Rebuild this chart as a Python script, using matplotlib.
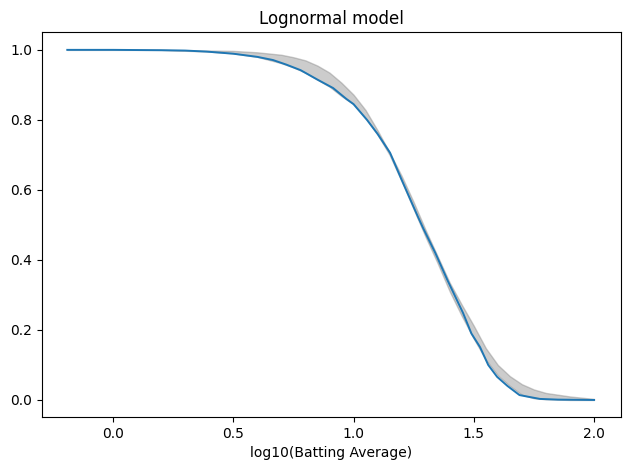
import matplotlib
matplotlib.use("Agg")
import matplotlib.pyplot as plt

# empirical survival curve (blue)
emp_x = [-0.19, 0.0, 0.2, 0.3, 0.39, 0.5, 0.6, 0.665, 0.72, 0.78, 0.85,
         0.915, 0.97, 1.0, 1.056, 1.10, 1.152, 1.20, 1.268, 1.29, 1.34,
         1.39, 1.455, 1.49, 1.526, 1.56, 1.597, 1.64, 1.69, 1.72, 1.775,
         1.85, 2.0]
emp_y = [1.0, 1.0, 0.999, 0.998, 0.995, 0.989, 0.980, 0.971, 0.958, 0.942, 0.915,
         0.891, 0.86, 0.845, 0.80, 0.76, 0.706, 0.629, 0.523, 0.49, 0.42,
         0.343, 0.249, 0.19, 0.151, 0.10, 0.066, 0.04, 0.014, 0.010, 0.003,
         0.001, 0.0]

# model band (gray)
band_x = [-0.19, 0.2, 0.4, 0.5, 0.6, 0.7, 0.75, 0.8, 0.85, 0.9, 0.95, 1.0, 1.05,
          1.1, 1.15, 1.2, 1.25, 1.3, 1.35, 1.4, 1.45, 1.5, 1.55, 1.6, 1.65,
          1.7, 1.75, 1.8, 1.9, 2.0]
band_low = [1.0, 1.0, 0.995, 0.99, 0.98, 0.962, 0.95, 0.935, 0.915, 0.895, 0.868, 0.845,
            0.805, 0.758, 0.70, 0.625, 0.545, 0.465, 0.39, 0.31, 0.24, 0.175, 0.115,
            0.07, 0.04, 0.015, 0.005, 0.002, 0.0, 0.0]
band_high = [1.0, 1.0, 0.998, 0.997, 0.993, 0.986, 0.979, 0.97, 0.955, 0.935, 0.906,
             0.872, 0.828, 0.77, 0.707, 0.64, 0.565, 0.485, 0.41, 0.335, 0.272, 0.212,
             0.148, 0.10, 0.068, 0.045, 0.03, 0.02, 0.01, 0.003]

fig, ax = plt.subplots(figsize=(6.3, 4.7), dpi=100)
ax.fill_between(band_x, band_low, band_high, color='gray', alpha=0.4)
ax.plot(emp_x, emp_y, color='C0', linewidth=1.4)

ax.set_title("Lognormal model")
ax.set_xlabel("log10(Batting Average)")
ax.set_xlim(-0.295, 2.112)
ax.set_ylim(-0.0486, 1.051)

fig.subplots_adjust(left=0.0667, right=0.9857, top=0.9319, bottom=0.1128)
plt.savefig("out.png", dpi=100)
plt.close()
